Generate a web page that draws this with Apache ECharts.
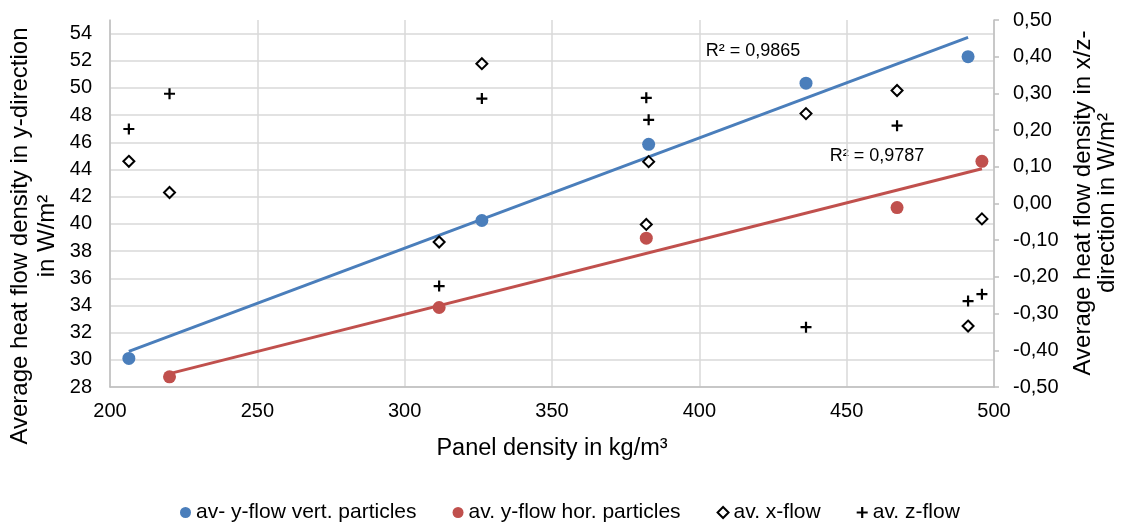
<!DOCTYPE html>
<html>
<head>
<meta charset="utf-8">
<script src="https://cdn.jsdelivr.net/npm/echarts@6/dist/echarts.min.js"></script>
<style>
html,body{margin:0;padding:0;background:#fff;}
#chart{width:1123px;height:523px;}
</style>
</head>
<body>
<div id="chart"></div>
<script>
// ---- data ----
var vertDensity = [206.4, 326.2, 382.8, 436.2, 491.2];
var vertYFlow   = [30.1, 40.25, 45.85, 50.35, 52.3];
var horDensity  = [220.2, 311.7, 382.0, 467.1, 495.9];
var horYFlow    = [28.75, 33.85, 38.95, 41.2, 44.6];
var xzDensity   = [206.4, 220.2, 311.7, 326.2, 382.0, 382.8, 436.2, 467.1, 491.2, 495.9];
var xFlow       = [0.115, 0.030, -0.105, 0.381, -0.057, 0.114, 0.245, 0.308, -0.334, -0.042];
var zFlow       = [0.203, 0.299, -0.225, 0.286, 0.288, 0.228, -0.337, 0.212, -0.266, -0.247];
var seriesNames = ['av- y-flow vert. particles', 'av. y-flow hor. particles', 'av. x-flow', 'av. z-flow'];
var r2Labels    = ['R² = 0,9865', 'R² = 0,9787'];
var xTitle = 'Panel density in kg/m³';
var yLeftTitle = 'Average heat flow density in y-direction\nin W/m²';
var yRightTitle = 'Average heat flow density in x/z-\ndirection in W/m²';

function pairs(xs, ys){ return xs.map(function(x,i){ return [x, ys[i]]; }); }
function trend(xs, ys){
  var n = xs.length, mx = 0, my = 0;
  for (var i=0;i<n;i++){ mx += xs[i]; my += ys[i]; }
  mx/=n; my/=n;
  var sxy=0, sxx=0;
  for (i=0;i<n;i++){ sxy += (xs[i]-mx)*(ys[i]-my); sxx += (xs[i]-mx)*(xs[i]-mx); }
  var b = sxy/sxx, a = my - b*mx;
  var x0 = Math.min.apply(null, xs), x1 = Math.max.apply(null, xs);
  return [[x0, a+b*x0],[x1, a+b*x1]];
}

var FONT = '"Liberation Sans", Arial, sans-serif';
var BLUE = '#4a7ebb', RED = '#c0504d';
var PLUS = 'path://M4,0H6V4H10V6H6V10H4V6H0V4H4Z';

var chart = echarts.init(document.getElementById('chart'), null, {renderer:'canvas'});
chart.setOption({
  animation: false,
  backgroundColor: '#fff',
  textStyle: {fontFamily: FONT},
  grid: {left: 110, right: 129, top: 20, bottom: 136, containLabel: false},
  legend: {
    data: seriesNames,
    left: 175, top: 497,
    itemWidth: 11, itemHeight: 11, itemGap: 36,
    textStyle: {fontSize: 21, color: '#000', fontFamily: FONT}
  },
  xAxis: {
    type: 'value', min: 200, max: 500, interval: 50,
    name: xTitle, nameLocation: 'middle', nameGap: 50,
    nameTextStyle: {fontSize: 23.5, color: '#000', fontFamily: FONT},
    axisLine: {show: true, onZero: false, lineStyle: {color: '#bfbfbf', width: 1.5}},
    axisTick: {show: false},
    axisLabel: {fontSize: 20, color: '#000', margin: 14, fontFamily: FONT},
    splitLine: {show: true, lineStyle: {color: '#d9d9d9', width: 1.5}}
  },
  yAxis: [{
    type: 'value', min: 28, max: 55, interval: 2, position: 'left',
    axisLine: {show: true, onZero: false, lineStyle: {color: '#bfbfbf', width: 1.5}},
    axisTick: {show: false},
    axisLabel: {fontSize: 20, color: '#000', margin: 18, showMaxLabel: false, fontFamily: FONT},
    splitLine: {show: true, showMaxLine: false, lineStyle: {color: '#d9d9d9', width: 1.5}}
  }, {
    type: 'value', min: -0.5, max: 0.5, interval: 0.1, position: 'right',
    axisLine: {show: true, onZero: false, lineStyle: {color: '#bfbfbf', width: 1.5}},
    axisTick: {show: true, inside: false, length: 5, lineStyle: {color: '#bfbfbf', width: 1.5}},
    axisLabel: {fontSize: 20, color: '#000', margin: 19, fontFamily: FONT,
      formatter: function(v){ if (Math.abs(v) < 1e-9) v = 0; return v.toFixed(2).replace('.', ','); }},
    splitLine: {show: false}
  }],
  series: [
    {name: 'trend-vert', type: 'line', data: trend(vertDensity, vertYFlow), showSymbol: false, silent: true,
     lineStyle: {color: BLUE, width: 3}, z: 1},
    {name: 'trend-hor', type: 'line', data: trend(horDensity, horYFlow), showSymbol: false, silent: true,
     lineStyle: {color: RED, width: 3}, z: 1},
    {name: seriesNames[0], type: 'scatter', data: pairs(vertDensity, vertYFlow), symbol: 'circle', symbolSize: 13,
     itemStyle: {color: BLUE, opacity: 1}, z: 3},
    {name: seriesNames[1], type: 'scatter', data: pairs(horDensity, horYFlow), symbol: 'circle', symbolSize: 13,
     itemStyle: {color: RED, opacity: 1}, z: 3},
    {name: seriesNames[2], type: 'scatter', yAxisIndex: 1, data: pairs(xzDensity, xFlow), symbol: 'diamond', symbolSize: 11,
     itemStyle: {color: '#fff', borderColor: '#000', borderWidth: 2, opacity: 1}, z: 3},
    {name: seriesNames[3], type: 'scatter', yAxisIndex: 1, data: pairs(xzDensity, zFlow), symbol: PLUS, symbolSize: 11,
     itemStyle: {color: '#000', opacity: 1}, z: 3}
  ],
  graphic: [
    {type: 'text', x: 34, y: 236, rotation: Math.PI/2,
     style: {text: yLeftTitle, fontSize: 24, fontFamily: FONT, fill: '#000', align: 'center', verticalAlign: 'middle',
             textAlign: 'center', textVerticalAlign: 'middle', lineHeight: 27}},
    {type: 'text', x: 1095, y: 203, rotation: Math.PI/2,
     style: {text: yRightTitle, fontSize: 24, fontFamily: FONT, fill: '#000', align: 'center', verticalAlign: 'middle',
             textAlign: 'center', textVerticalAlign: 'middle', lineHeight: 24}},
    {type: 'text', x: 753, y: 51,
     style: {text: r2Labels[0], fontSize: 18, fontFamily: FONT, fill: '#000', align: 'center', verticalAlign: 'middle',
             textAlign: 'center', textVerticalAlign: 'middle'}},
    {type: 'text', x: 877, y: 156,
     style: {text: r2Labels[1], fontSize: 18, fontFamily: FONT, fill: '#000', align: 'center', verticalAlign: 'middle',
             textAlign: 'center', textVerticalAlign: 'middle'}}
  ]
});
</script>
</body>
</html>
